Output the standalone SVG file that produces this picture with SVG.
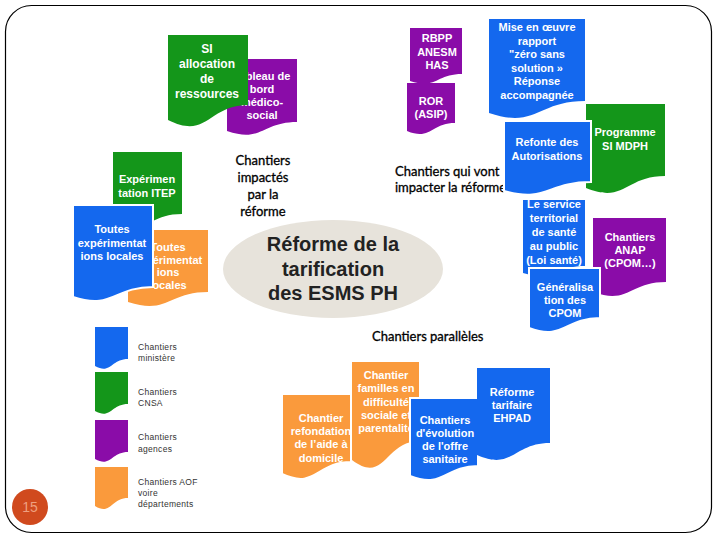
<svg xmlns="http://www.w3.org/2000/svg" width="720" height="540" viewBox="0 0 720 540">
<style>
.blue{fill:#1468ee}
.green{fill:#14961a}
.purple{fill:#8a0ca8}
.orange{fill:#fa9a3c}
.wo{stroke:#fff;stroke-width:2}
.t{font-family:"Liberation Sans",Arial,sans-serif;font-weight:bold;font-size:11px;fill:#fff;text-anchor:middle}
.t12{font-size:12px}
.lab{font-family:Lato,"Liberation Sans",sans-serif;font-size:13px;fill:#000;stroke:#000;stroke-width:0.3}
.leg{font-family:"Liberation Sans",Arial,sans-serif;font-size:8.5px;fill:#333;letter-spacing:0.3px}
</style>
<defs>
<clipPath id="clipOrange"><rect x="154" y="228" width="60" height="80"/></clipPath>
</defs>
<rect x="5.5" y="5.5" width="706" height="527" rx="26" fill="#fff" stroke="#000" stroke-width="1.2"/>

<g id="tableau-bord">
<path class="purple" d="M227 59H297V122C262 122 262 143 227 131Z"/>
<text class="t"><tspan x="262" y="80">Tableau de</tspan><tspan x="262" y="93">bord</tspan><tspan x="262" y="106">médico-</tspan><tspan x="262" y="119">social</tspan></text>
</g>
<g id="si-allocation">
<path class="green" d="M168 35H248V105C208 105 208 140 168 120Z"/>
<text class="t t12"><tspan x="207" y="53">SI</tspan><tspan x="207" y="68">allocation</tspan><tspan x="207" y="83">de</tspan><tspan x="207" y="98">ressources</tspan></text>
</g>
<g id="rbpp">
<path class="purple" d="M410 28H462V74C436 74 436 90 410 81Z"/>
<text class="t"><tspan x="437" y="42">RBPP</tspan><tspan x="437" y="56">ANESM</tspan><tspan x="437" y="69">HAS</tspan></text>
</g>
<g id="ror">
<path class="purple" d="M407 83H455V123C431 123 431 141 407 131Z"/>
<text class="t"><tspan x="431" y="105">ROR</tspan><tspan x="431" y="118">(ASIP)</tspan></text>
</g>
<g id="mise-en-oeuvre">
<path class="blue" d="M489 19H585V101C537 101 537 129 489 113Z"/>
<text class="t"><tspan x="537" y="31">Mise en œuvre</tspan><tspan x="537" y="44.5">rapport</tspan><tspan x="537" y="58">"zéro sans</tspan><tspan x="537" y="71.5">solution »</tspan><tspan x="537" y="85">Réponse</tspan><tspan x="537" y="98.5">accompagnée</tspan></text>
</g>

<g id="label-qui-vont">
<text class="lab"><tspan x="395" y="176">Chantiers qui vont</tspan><tspan x="395" y="192">impacter la réforme</tspan></text>
</g>

<g id="programme-si-mdph">
<path class="green" d="M586 104H665V176C625 176 625 204 586 188Z"/>
<text class="t"><tspan x="625" y="136">Programme</tspan><tspan x="625" y="149.5">SI MDPH</tspan></text>
</g>
<g id="refonte">
<path class="blue wo" d="M504 121H591V182C547 182 547 203 504 191Z"/>
<text class="t"><tspan x="547" y="146">Refonte des</tspan><tspan x="547" y="160">Autorisations</tspan></text>
</g>
<g id="le-service">
<path class="blue" d="M523 200H585V266C554 266 554 282 523 273Z"/>
<text class="t"><tspan x="554" y="208">Le service</tspan><tspan x="554" y="222">territorial</tspan><tspan x="554" y="236">de santé</tspan><tspan x="554" y="250">au public</tspan><tspan x="554" y="264">(Loi santé)</tspan></text>
</g>
<g id="anap">
<path class="purple" d="M593 218H666V282C629 282 629 305 593 292Z"/>
<text class="t"><tspan x="630" y="241">Chantiers</tspan><tspan x="630" y="254">ANAP</tspan><tspan x="630" y="267">(CPOM…)</tspan></text>
</g>
<g id="generalisation">
<path class="blue wo" d="M529 268H600V318C564 318 564 341 529 328Z"/>
<text class="t"><tspan x="565" y="291">Généralisa</tspan><tspan x="565" y="304">tion des</tspan><tspan x="565" y="317">CPOM</tspan></text>
</g>

<g id="experimentation-itep">
<path class="green" d="M113 152H182V214C147 214 147 237 113 224Z"/>
<text class="t"><tspan x="147" y="183">Expérimen</tspan><tspan x="147" y="197">tation ITEP</tspan></text>
</g>
<g id="toutes-orange">
<path class="orange" d="M128 230H208V292C168 292 168 315 128 302Z"/>
<text class="t" clip-path="url(#clipOrange)"><tspan x="168" y="251">Toutes</tspan><tspan x="168" y="263.5">expérimentat</tspan><tspan x="168" y="276">ions</tspan><tspan x="168" y="289">locales</tspan></text>
</g>
<g id="toutes-blue">
<path class="blue wo" d="M73 205H153V287C113 287 113 310 73 297Z"/>
<text class="t"><tspan x="112" y="233">Toutes</tspan><tspan x="112" y="247">expérimentat</tspan><tspan x="112" y="260">ions locales</tspan></text>
</g>

<g id="label-impactes">
<text class="lab" text-anchor="middle"><tspan x="263" y="165">Chantiers</tspan><tspan x="263" y="182">impactés</tspan><tspan x="263" y="199">par la</tspan><tspan x="263" y="216">réforme</tspan></text>
</g>

<g id="reforme">
<ellipse cx="333" cy="269" rx="110" ry="49" fill="#e7e3db"/>
<text font-family="Liberation Sans,Arial,sans-serif" font-weight="bold" font-size="20" fill="#222" text-anchor="middle"><tspan x="333" y="251">Réforme de la</tspan><tspan x="333" y="276">tarification</tspan><tspan x="333" y="300">des ESMS PH</tspan></text>
</g>

<g id="label-paralleles">
<text class="lab" x="372" y="341">Chantiers parallèles</text>
</g>

<g id="familles">
<path class="orange" d="M352 362H419V441C385 441 385 485 352 460Z"/>
<text class="t"><tspan x="386" y="379">Chantier</tspan><tspan x="386" y="392">familles en</tspan><tspan x="386" y="406">difficulté</tspan><tspan x="386" y="419">sociale et</tspan><tspan x="386" y="432">parentalité</tspan></text>
</g>
<g id="refondation">
<path class="orange wo" d="M282 394H351V462C316 462 316 490 282 474Z"/>
<text class="t"><tspan x="321" y="422">Chantier</tspan><tspan x="321" y="435">refondation</tspan><tspan x="321" y="448">de l’aide à</tspan><tspan x="321" y="462">domicile</tspan></text>
</g>
<g id="evolution">
<path class="blue wo" d="M410 398H478V466C444 466 444 489 410 476Z"/>
<text class="t"><tspan x="445" y="424">Chantiers</tspan><tspan x="445" y="437">d'évolution</tspan><tspan x="445" y="450">de l'offre</tspan><tspan x="445" y="463">sanitaire</tspan></text>
</g>
<g id="ehpad">
<path class="blue" d="M477 368H550V443C513 443 513 471 477 455Z"/>
<text class="t"><tspan x="512" y="396">Réforme</tspan><tspan x="512" y="409">tarifaire</tspan><tspan x="512" y="422">EHPAD</tspan></text>
</g>

<g id="legend-ministere">
<path class="blue" d="M95 327H128V359C111 359 111 375 95 366Z"/>
<text class="leg"><tspan x="138" y="350">Chantiers</tspan><tspan x="138" y="361">ministère</tspan></text>
</g>
<g id="legend-cnsa">
<path class="green" d="M95 372H128V404C111 404 111 420 95 411Z"/>
<text class="leg"><tspan x="138" y="395">Chantiers</tspan><tspan x="138" y="406">CNSA</tspan></text>
</g>
<g id="legend-agences">
<path class="purple" d="M95 420H128V452C111 452 111 468 95 459Z"/>
<text class="leg"><tspan x="138" y="440">Chantiers</tspan><tspan x="138" y="452">agences</tspan></text>
</g>
<g id="legend-aof">
<path class="orange" d="M95 467H128V498C111 498 111 516 95 506Z"/>
<text class="leg"><tspan x="138" y="485">Chantiers AOF</tspan><tspan x="138" y="496">voire</tspan><tspan x="138" y="507">départements</tspan></text>
</g>

<g id="page-number">
<circle cx="30" cy="507" r="18" fill="#d04a1e"/>
<text x="30" y="512" font-family="Liberation Sans,Arial,sans-serif" font-size="14" fill="#eea080" text-anchor="middle">15</text>
</g>
</svg>
